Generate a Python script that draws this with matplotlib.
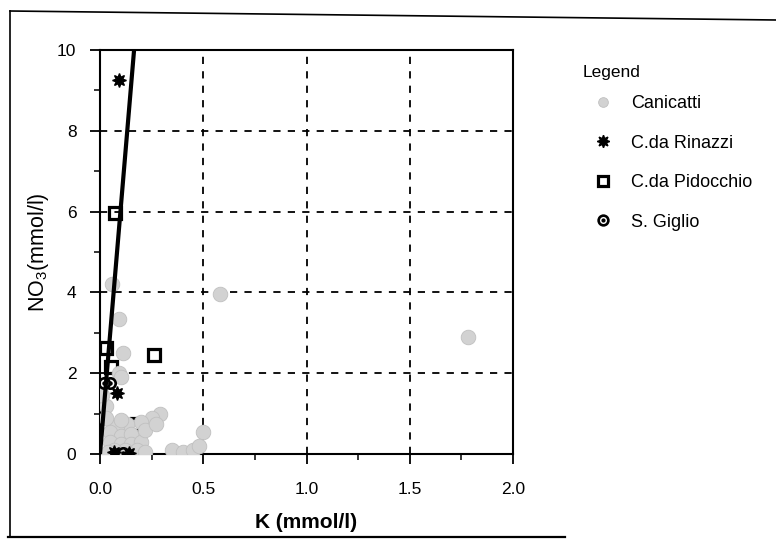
import matplotlib
matplotlib.use('Agg')
import numpy as np
from matplotlib import pyplot as plt
from matplotlib.lines import Line2D

plt.rcParams['font.family'] = ['Liberation Sans', 'DejaVu Sans']
plt.rcParams['mathtext.default'] = 'regular'

#############################################
# Datos (K, NO3 en mmol/l)
#############################################
can_k = [0.06, 0.09, 0.11, 0.09, 0.10, 0.58, 1.78, 0.50, 0.29, 0.25, 0.20, 0.13,
         0.08, 0.05, 0.10, 0.15, 0.05, 0.10, 0.15, 0.20, 0.18, 0.12, 0.07, 0.22,
         0.35, 0.40, 0.45, 0.48, 0.03, 0.03, 0.10, 0.22, 0.27, 0.01, 0.04]
can_no3 = [4.20, 3.35, 2.50, 2.00, 1.90, 3.97, 2.90, 0.55, 1.00, 0.90, 0.80, 0.75,
           0.70, 0.55, 0.45, 0.50, 0.30, 0.25, 0.25, 0.30, 0.10, 0.10, 0.10, 0.05,
           0.10, 0.05, 0.10, 0.20, 1.20, 0.90, 0.85, 0.60, 0.75, 1.45, 0.05]

rin_k = [0.09, 0.08, 0.07, 0.14]
rin_no3 = [9.26, 1.50, 0.05, 0.03]

pid_k = [0.075, 0.03, 0.26, 0.18, 0.055]
pid_no3 = [5.97, 2.62, 2.44, 0.75, 2.15]

gig_k = [0.02, 0.05, 0.11]
gig_no3 = [1.75, 1.75, 0.02]

# recta de ajuste
fit_k = [0.0, 0.165]
fit_no3 = [0.0, 10.0]

labels = ['Canicatti', 'C.da Rinazzi', 'C.da Pidocchio', 'S. Giglio']

########################################
### Figura
fig = plt.figure(figsize=(7.76, 5.48), dpi=100)
ax = fig.add_axes([100/776, 1-454/548, 413/776, 404/548])

ax.plot(pid_k, pid_no3, ls='none', marker='s', ms=8.5, mfc='none', mec='black',
        mew=2.3, zorder=3)
ax.plot(can_k, can_no3, ls='none', marker='o', ms=10.5, mfc='#d2d2d2', mec='#c0c0c0',
        mew=0.6, zorder=4)
ax.plot(fit_k, fit_no3, color='black', lw=3, zorder=5, solid_capstyle='butt')
ax.plot(rin_k, rin_no3, ls='none', marker=(8, 1, 0), ms=10, mfc='black', mec='black',
        mew=1, zorder=6)
ax.plot(gig_k, gig_no3, ls='none', marker='o', ms=7.5, mfc='none', mec='black',
        mew=1.9, zorder=6)
ax.plot(gig_k, gig_no3, ls='none', marker='o', ms=2.2, mfc='black', mec='black',
        zorder=6)

ax.set_xlim(0, 2)
ax.set_ylim(0, 10)
ax.set_xticks([0, 0.5, 1.0, 1.5, 2.0])
ax.set_xticklabels(['0.0', '0.5', '1.0', '1.5', '2.0'])
ax.set_xticks([0.25, 0.75, 1.25, 1.75], minor=True)
ax.set_yticks([0, 2, 4, 6, 8, 10])
ax.set_yticks([1, 3, 5, 7, 9], minor=True)
ax.tick_params(which='major', direction='out', length=7, width=1.3, labelsize=12.5)
ax.tick_params(axis='x', which='major', pad=13)
ax.tick_params(axis='y', which='major', pad=10)
ax.tick_params(which='minor', direction='out', length=4, width=1.1)
ax.grid(True, which='major', color='black', ls=(0, (4, 4)), lw=1.3)
for s in ax.spines.values():
    s.set_linewidth(1.5)

ax.set_xlabel('K (mmol/l)', fontsize=15, fontweight='bold', labelpad=12)
ax.set_ylabel('NO$_3$(mmol/l)', fontsize=15.5, labelpad=4)

########################################
### Leyenda
h_can = Line2D([], [], ls='none', marker='o', ms=7, mfc='#d2d2d2', mec='#c0c0c0', mew=0.6)
h_rin = Line2D([], [], ls='none', marker=(8, 1, 0), ms=9, mfc='black', mec='black', mew=1)
h_pid = Line2D([], [], ls='none', marker='s', ms=7.5, mfc='none', mec='black', mew=2.3)
h_gig = Line2D([], [], ls='none', marker='o', ms=7, mfc='none', mec='black', mew=1.9)
h_gig2 = Line2D([], [], ls='none', marker='o', ms=2, mfc='black', mec='black')
fig.text(583/776, 1-72/548, 'Legend', fontsize=12.5, va='center', ha='left')
fig.legend([h_can, h_rin, h_pid, (h_gig, h_gig2)], labels, loc='upper left',
           bbox_to_anchor=(583/776, 1-95/548), frameon=False, fontsize=13,
           handlelength=2.2, handletextpad=0.45, labelspacing=1.25, borderpad=0,
           borderaxespad=0)

########################################
### Marco exterior
fig.add_artist(Line2D([10/776, 10/776], [1-537/548, 1-11/548], color='black', lw=1.2))
fig.add_artist(Line2D([10/776, 1.0], [1-11/548, 1-20/548], color='black', lw=1.2))
fig.add_artist(Line2D([8/776, 565/776], [1-537/548, 1-537/548], color='black', lw=1.6))

fig.savefig('out.png', dpi=100)
